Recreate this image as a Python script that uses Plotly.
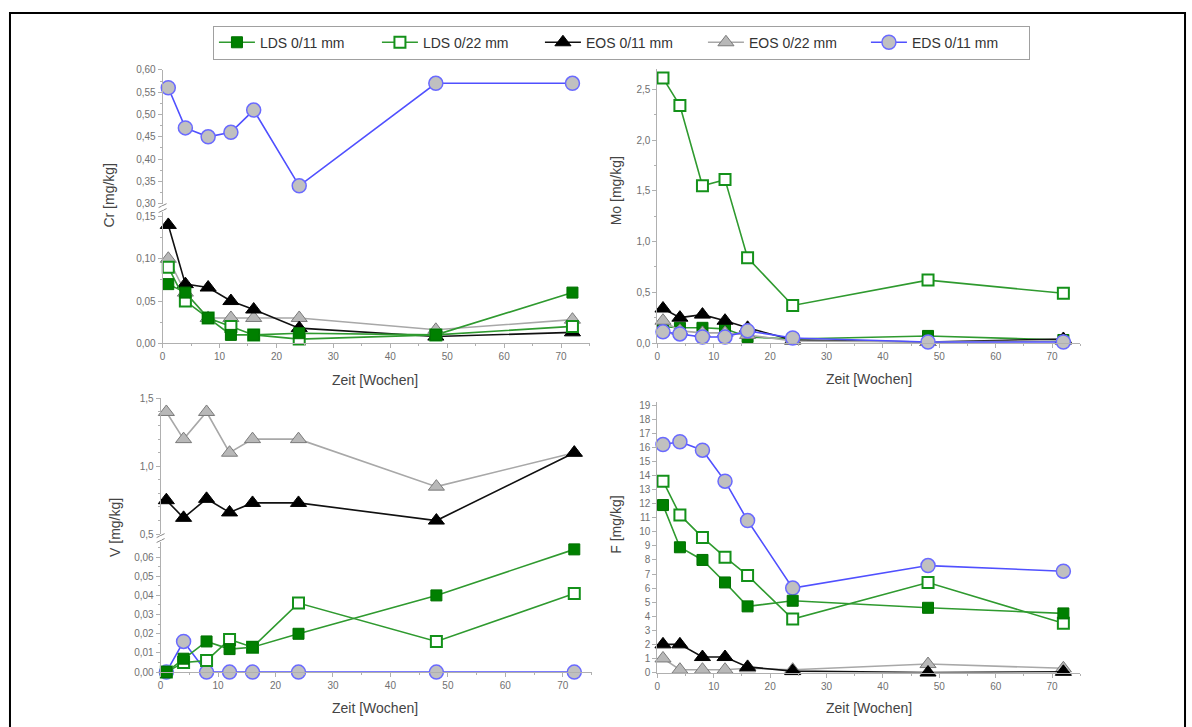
import plotly.graph_objects as go

W, H = 1192, 727

# Sampling times (weeks)
weeks = [1, 4, 8, 12, 16, 24, 48, 72]

series_names = ["LDS 0/11 mm", "LDS 0/22 mm", "EOS 0/11 mm", "EOS 0/22 mm", "EDS 0/11 mm"]

# Cr [mg/kg]
cr_lds_011 = [0.070, 0.060, 0.030, 0.010, 0.010, 0.012, 0.010, 0.060]
cr_lds_022 = [0.090, 0.050, 0.030, 0.020, 0.010, 0.005, 0.010, 0.020]
cr_eos_011 = [0.140, 0.070, 0.066, 0.050, 0.040, 0.018, 0.008, 0.013]
cr_eos_022 = [0.100, 0.060, 0.030, 0.030, 0.030, 0.030, 0.016, 0.028]
cr_eds_011 = [0.56, 0.47, 0.45, 0.46, 0.51, 0.34, 0.57, 0.57]

# Mo [mg/kg]
mo_lds_011 = [0.16, 0.15, 0.15, 0.14, 0.06, 0.04, 0.07, 0.03]
mo_lds_022 = [2.61, 2.34, 1.55, 1.61, 0.84, 0.37, 0.62, 0.49]
mo_eos_011 = [0.34, 0.25, 0.28, 0.22, 0.15, 0.03, 0.01, 0.04]
mo_eos_022 = [0.22, 0.12, 0.10, 0.10, 0.08, 0.02, 0.01, 0.02]
mo_eds_011 = [0.11, 0.09, 0.06, 0.06, 0.12, 0.05, 0.01, 0.01]

# V [mg/kg]
v_lds_011 = [0.000, 0.007, 0.016, 0.012, 0.013, 0.020, 0.040, 0.064]
v_lds_022 = [0.000, 0.005, 0.006, 0.017, 0.013, 0.036, 0.016, 0.041]
v_eos_011 = [0.75, 0.62, 0.76, 0.66, 0.73, 0.73, 0.60, 1.10]
v_eos_022 = [1.40, 1.20, 1.40, 1.10, 1.20, 1.20, 0.85, 1.10]
v_eds_011 = [0.000, 0.016, 0.000, 0.000, 0.000, 0.000, 0.000, 0.000]

# F [mg/kg]
f_lds_011 = [11.9, 8.9, 8.0, 6.4, 4.7, 5.1, 4.6, 4.2]
f_lds_022 = [13.6, 11.2, 9.6, 8.2, 6.9, 3.8, 6.4, 3.5]
f_eos_011 = [2.0, 2.0, 1.1, 1.1, 0.4, 0.1, 0.0, 0.05]
f_eos_022 = [1.0, 0.2, 0.2, 0.2, 0.3, 0.2, 0.6, 0.3]
f_eds_011 = [16.2, 16.4, 15.8, 13.6, 10.8, 6.0, 7.6, 7.2]

# Series styling
STYLE = {
    "LDS 0/11 mm": dict(line="#2f9a2f", marker=dict(symbol="square", size=11, color="#008000",
                                                     line=dict(color="#007000", width=1))),
    "LDS 0/22 mm": dict(line="#2f9a2f", marker=dict(symbol="square", size=11, color="white",
                                                     line=dict(color="#14911a", width=2))),
    "EOS 0/11 mm": dict(line="#111111", marker=dict(symbol="triangle-up", size=14, color="black",
                                                     line=dict(color="black", width=1))),
    "EOS 0/22 mm": dict(line="#a8a8a8", marker=dict(symbol="triangle-up", size=14, color="#b8b8b8",
                                                     line=dict(color="#7a7a7a", width=1))),
    "EDS 0/11 mm": dict(line="#5050ff", marker=dict(symbol="circle", size=14, color="#c0c0c0",
                                                     line=dict(color="#6a6aff", width=1.5))),
}


def px_x(p):
    return p / W


def px_y(p):
    return 1 - p / H


fig = go.Figure()


def add(name, yvals, xa, ya, legend=False):
    st = STYLE[name]
    fig.add_trace(go.Scatter(
        x=weeks, y=yvals, name=name, mode="lines+markers",
        line=dict(color=st["line"], width=1.6),
        marker=st["marker"], xaxis=xa, yaxis=ya,
        legendgroup=name, showlegend=legend, cliponaxis=False,
    ))


# Cr: broken axis (EDS on the upper part, the rest below)
add("EOS 0/22 mm", cr_eos_022, "x", "y")
add("EOS 0/11 mm", cr_eos_011, "x", "y")
add("LDS 0/22 mm", cr_lds_022, "x", "y")
add("LDS 0/11 mm", cr_lds_011, "x", "y")
add("EDS 0/11 mm", cr_eds_011, "x", "y2")

# Mo (carries the legend entries)
add("LDS 0/11 mm", mo_lds_011, "x2", "y3", True)
add("LDS 0/22 mm", mo_lds_022, "x2", "y3", True)
add("EOS 0/11 mm", mo_eos_011, "x2", "y3", True)
add("EOS 0/22 mm", mo_eos_022, "x2", "y3", True)
add("EDS 0/11 mm", mo_eds_011, "x2", "y3", True)

# V: broken axis (EOS on the upper part)
add("EDS 0/11 mm", v_eds_011, "x3", "y4")
add("LDS 0/22 mm", v_lds_022, "x3", "y4")
add("LDS 0/11 mm", v_lds_011, "x3", "y4")
add("EOS 0/22 mm", v_eos_022, "x3", "y5")
add("EOS 0/11 mm", v_eos_011, "x3", "y5")

# F
add("EOS 0/22 mm", f_eos_022, "x4", "y6")
add("EOS 0/11 mm", f_eos_011, "x4", "y6")
add("EDS 0/11 mm", f_eds_011, "x4", "y6")
add("LDS 0/22 mm", f_lds_022, "x4", "y6")
add("LDS 0/11 mm", f_lds_011, "x4", "y6")

AX = "#b0b0b0"
TICKFONT = dict(family="Liberation Sans, Arial, sans-serif", size=10, color="#707070")


def xaxis(domain, anchor):
    return dict(domain=domain, anchor=anchor, range=[0, 75], tick0=0, dtick=10,
                showline=True, linecolor=AX, linewidth=1, ticks="outside", ticklen=4,
                tickcolor=AX, showgrid=False, zeroline=False, tickfont=TICKFONT,
                minor=dict(ticks="outside", ticklen=2, tickcolor=AX, dtick=5))


def yaxis(domain, anchor, rng, dtick, minor, fmt):
    return dict(domain=domain, anchor=anchor, range=rng, tick0=0, dtick=dtick,
                showline=True, linecolor=AX, linewidth=1, ticks="outside", ticklen=4,
                tickcolor=AX, showgrid=False, zeroline=False, tickfont=TICKFONT,
                tickformat=fmt,
                minor=dict(ticks="outside", ticklen=2, tickcolor=AX, dtick=minor))


left_x = [px_x(160), px_x(588)]
left_x_b = [px_x(158), px_x(590)]
right_x = [px_x(656), px_x(1080)]

fig.update_layout(
    width=W, height=H,
    margin=dict(l=0, r=0, t=0, b=0),
    paper_bgcolor="white", plot_bgcolor="white",
    separators=", ",
    font=dict(family="Liberation Sans, Arial, sans-serif", color="#444444"),
    xaxis=xaxis(left_x, "y"),
    yaxis=yaxis([px_y(343), px_y(209.7)], "x", [0, 0.155], 0.05, 0.025, ".2f"),
    yaxis2=yaxis([px_y(201), px_y(65)], "x", [0.30, 0.60], 0.05, 0.025, ".2f"),
    xaxis2=xaxis(right_x, "y3"),
    yaxis3=yaxis([px_y(342.7), px_y(64)], "x2", [0, 2.7], 0.5, 0.25, ".1f"),
    xaxis3=xaxis(left_x_b, "y4"),
    yaxis4=yaxis([px_y(677.3), px_y(544.7)], "x3", [0, 0.068], 0.01, 0.005, ".2f"),
    yaxis5=yaxis([px_y(537), px_y(399)], "x3", [0.5, 1.5], 0.5, 0.1, ".1f"),
    xaxis4=xaxis(right_x, "y6"),
    yaxis6=yaxis([px_y(677.7), px_y(403)], "x4", [0, 19.2], 1, None, "d"),
    legend=dict(orientation="h", x=px_x(620), xanchor="center", y=px_y(20), yanchor="top",
                bordercolor="#a0a0a0", borderwidth=1, bgcolor="white",
                font=dict(size=14, color="#333333"), entrywidth=112, itemwidth=36,
                traceorder="normal"),
)
fig.layout.yaxis6.minor = dict(ticks="")

# Axis titles
TITLEFONT = dict(family="Liberation Sans, Arial, sans-serif", size=14, color="#444444")
titles = [
    ("Zeit [Wochen]", 373, 380, 0),
    ("Zeit [Wochen]", 868, 379, 0),
    ("Zeit [Wochen]", 373, 714, 0),
    ("Zeit [Wochen]", 868, 714, 0),
    ("Cr [mg/kg]", 106, 192, -90),
    ("Mo [mg/kg]", 614, 188, -90),
    ("V [mg/kg]", 113, 530, -90),
    ("F [mg/kg]", 615, 527, -90),
]
for text, tx, ty, ang in titles:
    fig.add_annotation(text=text, x=px_x(tx), y=px_y(ty), xref="paper", yref="paper",
                       showarrow=False, textangle=ang, xanchor="center", yanchor="middle",
                       font=TITLEFONT)

# Axis-break marks
for bx, by in [(160, 205.5), (158, 541)]:
    for dy in (-2.5, 2.5):
        fig.add_shape(type="line", xref="paper", yref="paper",
                      x0=px_x(bx - 4), y0=px_y(by + dy + 2), x1=px_x(bx + 4), y1=px_y(by + dy - 2),
                      line=dict(color="#888888", width=1))
    fig.add_shape(type="rect", xref="paper", yref="paper",
                  x0=px_x(bx - 1), x1=px_x(bx + 1), y0=px_y(by + 2), y1=px_y(by - 2),
                  line=dict(width=0), fillcolor="white", layer="above")

# Outer frame
fig.add_shape(type="rect", xref="paper", yref="paper",
              x0=px_x(7), x1=px_x(1185), y0=px_y(740), y1=px_y(7),
              line=dict(color="black", width=2), fillcolor="rgba(0,0,0,0)")

fig.write_html("out.html")
